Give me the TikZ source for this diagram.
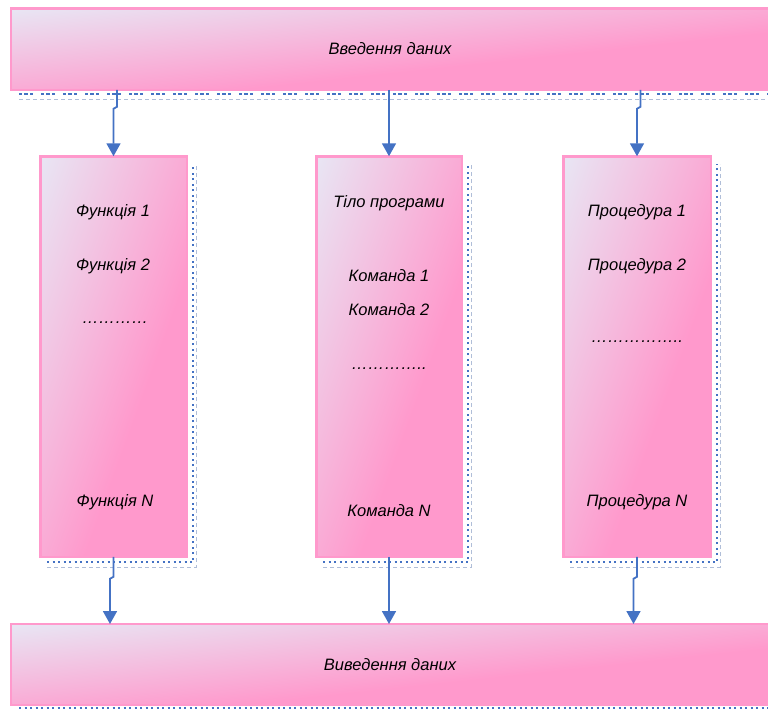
\documentclass[tikz,border=0pt]{standalone}
\usepackage{fontspec}
\setmainfont{Liberation Sans}
\usetikzlibrary{arrows.meta,calc}

\definecolor{pinkB}{RGB}{255,153,204}
\definecolor{linkblue}{RGB}{68,114,196}
\definecolor{palebl}{RGB}{176,190,216}

% box fill: lavender in the upper left corner, turning pink along x/w + y/h
\pgfdeclarefunctionalshading{boxfade}{\pgfpoint{0bp}{0bp}}{\pgfpoint{100bp}{100bp}}{}{
  75 exch sub 50 div
  exch 25 sub 50 div
  add 1.3 div
  dup 1 gt {pop 1} if
  dup 0 lt {pop 0} if
  dup 0.090 mul 0.910 add
  exch dup -0.302 mul 0.902 add
  exch -0.157 mul 0.957 add
}

\tikzset{
  blockbox/.style={rectangle, draw=pinkB, line width=2.5pt, shade, shading=boxfade,
    inner sep=0pt, outer sep=0pt,
    font=\itshape\fontsize{16.5}{19}\selectfont},
  widebox/.style={blockbox, minimum width=758pt},
  tallbox/.style={blockbox, minimum height=400.5pt},
  txt/.style={inner sep=0pt, font=\itshape\fontsize{16.5}{19}\selectfont},
  sqdots/.style={linkblue, line width=2.2pt, dash pattern=on 2pt off 3.5pt},
  thindash/.style={palebl, line width=0.8pt, dash pattern=on 4pt off 3pt},
  topdots/.style={linkblue, line width=2.4pt,
    dash pattern=on 2.5pt off 2.5pt on 3.5pt off 2.5pt on 2.5pt off 8.5pt},
  arr/.style={linkblue, line width=1.8pt, -{Triangle[width=14pt,length=13pt]}},
}

\begin{document}
\begin{tikzpicture}[x=1pt,y=-1pt]
\useasboundingbox (0,0) rectangle (768,710);

% dotted shadow frames behind the boxes
\draw[thindash] (19,99) -- (770,99);
\draw[topdots] (19,94) -- (770,94);
\draw[sqdots] (19,708) -- (770,708);

\foreach \xl/\xr in {39/188, 315/463, 562/712}{
  \draw[thindash] (\xl+8,567) -- (\xr+8,567) -- (\xr+8,164);
  \draw[sqdots] (\xl+8,562) -- (\xr+5,562) -- (\xr+5,164);
}

% input and output bars
\node[widebox, minimum height=81.5pt] (in) at (390,49) {Введення даних};
\node[widebox, minimum height=81pt] (out) at (390,664.5) {Виведення даних};

% the three columns
\node[tallbox, minimum width=146.5pt] (f) at (113.5,356.5) {};
\node[tallbox, minimum width=145.5pt] (c) at (389,356.5) {};
\node[tallbox, minimum width=147.5pt] (p) at (637,356.5) {};

% column contents
\node[txt] (f1) at (113,212) {Функція 1};
\node[txt] (f2) at (113,266) {Функція 2};
\node[txt] (fd) at (115,323) {…………};
\node[txt] (fn) at (115,502) {Функція N};

\node[txt] (c0) at (389,203) {Тіло програми};
\node[txt] (c1) at (389,276) {Команда 1};
\node[txt] (c2) at (389,310) {Команда 2};
\node[txt] (cd) at (389,369) {…………..};
\node[txt] (cn) at (389,511) {Команда N};

\node[txt] (p1) at (637,212) {Процедура 1};
\node[txt] (p2) at (637,266) {Процедура 2};
\node[txt] (pd) at (637,342) {……………..};
\node[txt] (pn) at (637,502) {Процедура N};

% flow arrows
\draw[arr] ($(in.south -| f.north)+(3.5,0)$) -- ++(0,17) -- ++(-3.5,2) -- (f.north);
\draw[arr] (in.south -| c.north) -- (c.north);
\draw[arr] ($(in.south -| p.north)+(3.5,0)$) -- ++(0,17) -- ++(-3.5,2) -- (p.north);

\draw[arr] (f.south) -- ++(0,20) -- ++(-3.5,2) -- ($(out.north -| f.south)+(-3.5,0)$);
\draw[arr] (c.south) -- (out.north -| c.south);
\draw[arr] (p.south) -- ++(0,20) -- ++(-3.5,2) -- ($(out.north -| p.south)+(-3.5,0)$);
\end{tikzpicture}
\end{document}
